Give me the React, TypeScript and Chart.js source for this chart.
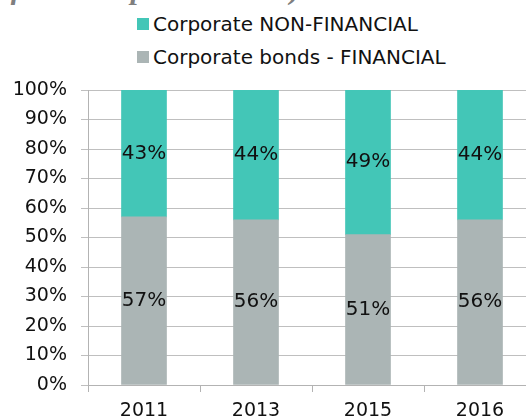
import React, { useEffect, useRef } from "react";
import { Chart, registerables } from "chart.js";

Chart.register(...registerables);

const categories = ["2011", "2013", "2015", "2016"];
const financial = [57, 56, 51, 56];
const nonFinancial = [43, 44, 49, 44];
const yTicks = [0, 10, 20, 30, 40, 50, 60, 70, 80, 90, 100];
const labelFinancial = "Corporate bonds - FINANCIAL";
const labelNonFinancial = "Corporate NON-FINANCIAL";
const titleText = "(% of total corporate bonds)";

const TEAL = "#43C6B7";
const GREY = "#ABB5B5";
const FONT = "'DejaVu Sans', Verdana, sans-serif";

const dataLabelPlugin = {
  id: "dataLabels",
  afterDatasetsDraw(chart: any) {
    const ctx = chart.ctx;
    ctx.save();
    ctx.font = `20px ${FONT}`;
    ctx.fillStyle = "#111";
    ctx.textAlign = "center";
    ctx.textBaseline = "middle";
    chart.data.datasets.forEach((ds: any, di: number) => {
      const meta = chart.getDatasetMeta(di);
      meta.data.forEach((el: any, i: number) => {
        const props = el.getProps(["x", "y", "base"], true);
        const cy = (props.y + props.base) / 2;
        ctx.fillText(ds.data[i] + "%", props.x, cy);
      });
    });
    ctx.restore();
  },
};

export default function App() {
  const ref = useRef<HTMLCanvasElement>(null);
  useEffect(() => {
    document.body.style.margin = "0";
    document.body.style.overflow = "hidden";
    const chart = new Chart(ref.current!, {
      type: "bar",
      data: {
        labels: categories,
        datasets: [
          {
            label: labelFinancial,
            data: financial,
            backgroundColor: GREY,
            barThickness: 45,
          },
          {
            label: labelNonFinancial,
            data: nonFinancial,
            backgroundColor: TEAL,
            barThickness: 45,
          },
        ],
      },
      options: {
        responsive: false,
        animation: false,
        layout: { padding: { top: 90, left: 0, right: 0, bottom: 0 } },
        plugins: {
          legend: { display: false },
          tooltip: { enabled: false },
          title: { display: false },
        },
        scales: {
          x: {
            stacked: true,
            grid: {
              offset: true,
              drawOnChartArea: false,
              drawTicks: true,
              tickLength: 7,
              color: "#B3B3B3",
            },
            border: { color: "#B3B3B3", width: 1 },
            ticks: {
              font: { family: FONT, size: 19 },
              color: "#111",
              padding: 8,
            },
            afterFit: (s: any) => {
              s.height = 34;
            },
          },
          y: {
            stacked: true,
            min: 0,
            max: 100,
            afterBuildTicks: (s: any) => {
              s.ticks = yTicks.map((v) => ({ value: v }));
            },
            grid: {
              color: "#BFBFBF",
              drawTicks: true,
              tickLength: 7,
            },
            border: { color: "#B3B3B3", width: 1 },
            ticks: {
              font: { family: FONT, size: 19 },
              color: "#111",
              padding: 14,
              callback: (v: any) => v + "%",
            },
            afterFit: (s: any) => {
              s.width = 88;
            },
          },
        },
      },
      plugins: [dataLabelPlugin],
    });
    return () => chart.destroy();
  }, []);

  const legendItem = (color: string, text: string, top: number) => (
    <div
      style={{
        position: "absolute",
        left: 137,
        top,
        display: "flex",
        alignItems: "center",
        fontFamily: FONT,
        fontSize: 20,
        color: "#111",
        whiteSpace: "nowrap",
        lineHeight: "24px",
      }}
    >
      <span
        style={{
          display: "inline-block",
          width: 12,
          height: 12,
          background: color,
          marginRight: 4,
        }}
      />
      {text}
    </div>
  );

  return (
    <div
      style={{
        position: "relative",
        width: 526,
        height: 419,
        overflow: "hidden",
        background: "#fff",
      }}
    >
      <div
        style={{
          position: "absolute",
          right: 226,
          top: -26,
          fontFamily: "'Liberation Serif', serif",
          fontWeight: "bold",
          fontStyle: "italic",
          fontSize: 30,
          lineHeight: 1,
          color: "#7F7F7F",
          whiteSpace: "nowrap",
        }}
      >
        {titleText}
      </div>
      {legendItem(TEAL, labelNonFinancial, 12)}
      {legendItem(GREY, labelFinancial, 45)}
      <canvas
        ref={ref}
        width={536}
        height={419}
        style={{ position: "absolute", left: 0, top: 0, width: 536, height: 419 }}
      />
    </div>
  );
}
